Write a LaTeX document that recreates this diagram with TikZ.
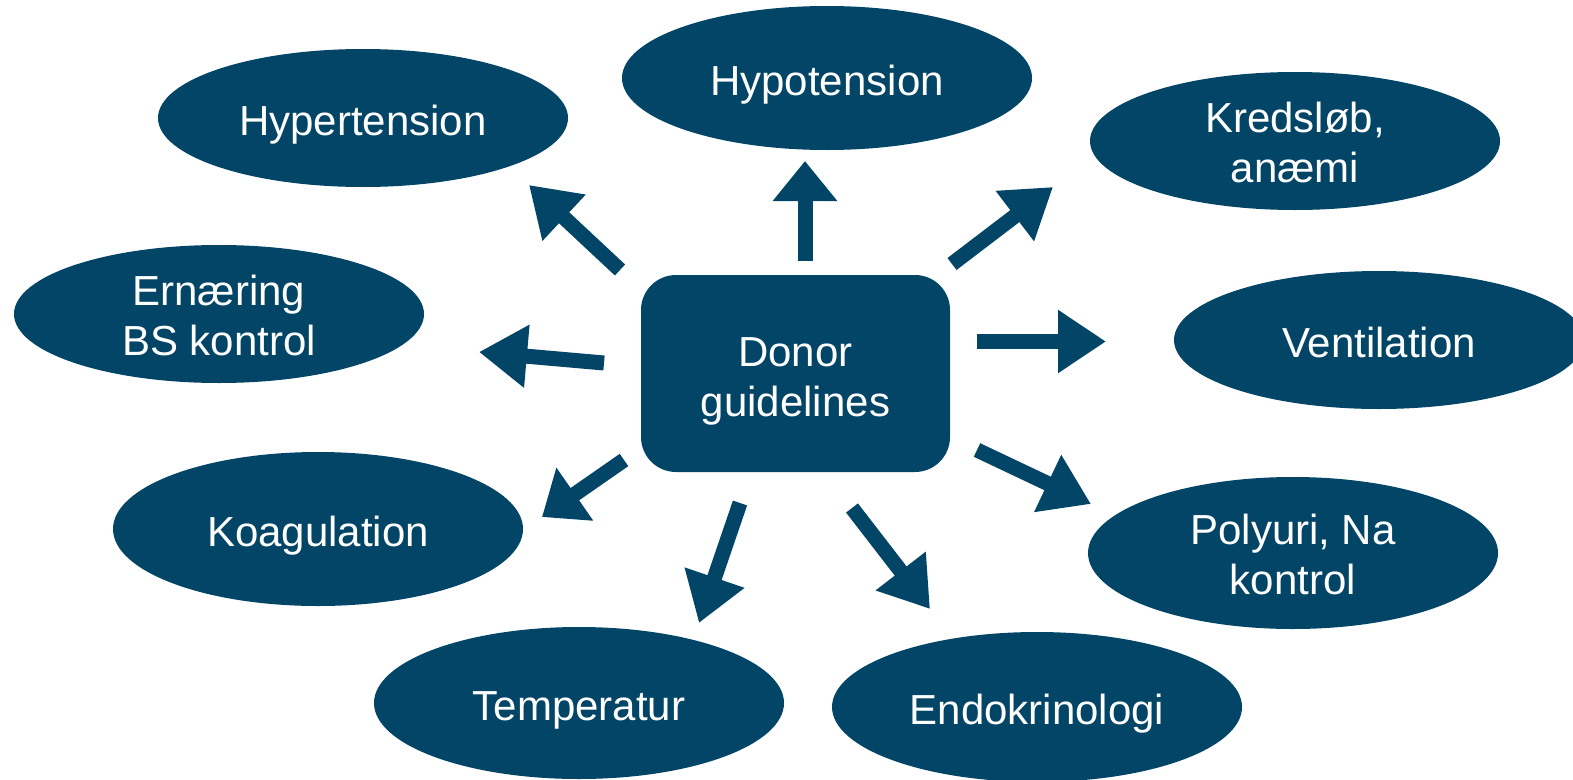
\documentclass[tikz,border=0pt]{standalone}
\usepackage{fontspec}
\setmainfont{Liberation Sans}
\usetikzlibrary{shapes.geometric,arrows.meta}
\definecolor{navy}{RGB}{2,69,103}
\begin{document}
\begin{tikzpicture}[x=1pt,y=-1pt,
  oval/.style={ellipse,fill=navy,text=white,inner sep=0pt,align=center,
    minimum width=410pt,minimum height=138pt,font=\fontsize{42}{50}\selectfont},
  one/.style={text height=34pt,text depth=0pt},
  hub/.style={rectangle,rounded corners=35pt,fill=navy,text=white,inner sep=0pt,align=center,
    minimum width=309pt,minimum height=197pt,font=\fontsize{42}{50}\selectfont},
  arr/.style={line width=15pt,draw=navy,-{Triangle[length=48pt,width=60pt]}},
  arrs/.style={line width=15pt,draw=navy,-{Triangle[length=40pt,width=62pt]}}]
\useasboundingbox (0,0) rectangle (1573,779);
\clip (0,0) rectangle (1573,779);
\node[hub] (c) at (795.5,373.5) {\rule{0pt}{44pt}Donor\\guidelines};
\node[oval,one] (hyper) at (363,118) {Hypertension};
\node[oval,one,minimum height=144pt] (hypo) at (827,78) {Hypotension};
\node[oval] (kred) at (1295,141) {\rule{0pt}{34pt}Kredsløb,\\anæmi};
\node[oval] (ern) at (219,314) {\rule{0pt}{34pt}Ernæring\\BS kontrol};
\node[oval,one] (vent) at (1379,340) {Ventilation};
\node[oval,one,minimum height=154pt] (koag) at (318,529) {Koagulation};
\node[oval,minimum height=152pt] (poly) at (1293,553) {\rule{0pt}{34pt}Polyuri, Na\\kontrol};
\node[oval,one,minimum height=152pt] (temp) at (579,703) {Temperatur};
\node[oval,one,minimum height=150pt] (endo) at (1037,707) {Endokrinologi};
% arrow coordinates
\coordinate (t1) at (620,270); \coordinate (h1) at (529,185);
\coordinate (t2) at (805,261); \coordinate (h2) at (805,161);
\coordinate (t3) at (952,264); \coordinate (h3) at (1053,187);
\coordinate (t4) at (977,341.5); \coordinate (h4) at (1106,341.5);
\coordinate (t5) at (604,363); \coordinate (h5) at (479,352);
\coordinate (t6) at (624,460); \coordinate (h6) at (542,517);
\coordinate (t7) at (740,503); \coordinate (h7) at (699,623);
\coordinate (t8) at (852,508); \coordinate (h8) at (930,609);
\coordinate (t9) at (977,450); \coordinate (h9) at (1091,504);
\draw[arr] (t1) -- (h1);
\draw[arrs] (t2) -- (h2);
\draw[arr] (t3) -- (h3);
\draw[arr] (t4) -- (h4);
\draw[arr] (t5) -- (h5);
\draw[arrs] (t6) -- (h6);
\draw[arr] (t7) -- (h7);
\draw[arr] (t8) -- (h8);
\draw[arr] (t9) -- (h9);
\end{tikzpicture}
\end{document}
